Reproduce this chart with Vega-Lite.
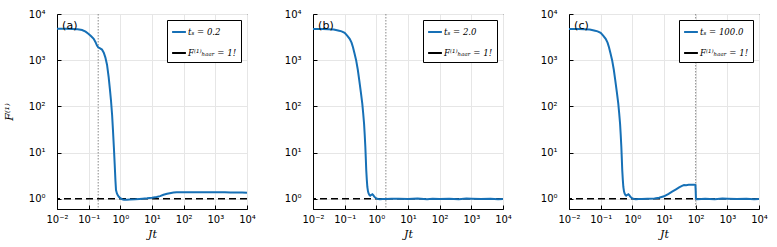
{
  "$schema": "https://vega.github.io/schema/vega-lite/v6.json",
  "padding": {"left": 2, "top": 8, "right": 5, "bottom": 2},
  "background": "white",
  "bounds": "flush",
  "spacing": 66,
  "datasets": {
    "a": [
      {"x":0.01,"y":4800},{"x":0.02,"y":4790},{"x":0.03,"y":4750},{"x":0.045,"y":4650},{"x":0.062,"y":4500},{"x":0.08,"y":4150},{"x":0.1,"y":3700},{"x":0.12,"y":3300},{"x":0.144,"y":2900},{"x":0.165,"y":2450},{"x":0.183,"y":2070},{"x":0.2,"y":1900},{"x":0.23,"y":1800},{"x":0.263,"y":1700},{"x":0.3,"y":1450},{"x":0.336,"y":1150},{"x":0.38,"y":800},{"x":0.428,"y":430},{"x":0.47,"y":230},{"x":0.507,"y":134},{"x":0.55,"y":65},{"x":0.586,"y":30},{"x":0.625,"y":13},{"x":0.662,"y":5.8},{"x":0.7,"y":2.5},{"x":0.73,"y":1.54},{"x":0.78,"y":1.3},{"x":0.824,"y":1.2},{"x":0.9,"y":1.1},{"x":1.0,"y":1.03},{"x":1.15,"y":0.97},{"x":1.3,"y":0.95},{"x":1.6,"y":0.95},{"x":2,"y":0.96},{"x":3,"y":0.97},{"x":4,"y":0.99},{"x":5,"y":1.0},{"x":7,"y":1.02},{"x":10,"y":1.05},{"x":14,"y":1.09},{"x":18,"y":1.14},{"x":23,"y":1.22},{"x":30,"y":1.28},{"x":40,"y":1.33},{"x":48,"y":1.36},{"x":60,"y":1.38},{"x":80,"y":1.39},{"x":100,"y":1.38},{"x":150,"y":1.39},{"x":200,"y":1.38},{"x":300,"y":1.39},{"x":500,"y":1.38},{"x":700,"y":1.39},{"x":1000,"y":1.38},{"x":1500,"y":1.38},{"x":2000,"y":1.39},{"x":3000,"y":1.37},{"x":5000,"y":1.37},{"x":7000,"y":1.36},{"x":10000,"y":1.35}
    ],
    "b": [
      {"x":0.01,"y":4750},{"x":0.02,"y":4740},{"x":0.03,"y":4700},{"x":0.045,"y":4600},{"x":0.062,"y":4400},{"x":0.08,"y":4200},{"x":0.1,"y":3900},{"x":0.12,"y":3400},{"x":0.144,"y":2900},{"x":0.165,"y":2400},{"x":0.183,"y":1900},{"x":0.205,"y":1400},{"x":0.23,"y":1000},{"x":0.26,"y":620},{"x":0.29,"y":360},{"x":0.325,"y":200},{"x":0.36,"y":115},{"x":0.385,"y":70},{"x":0.41,"y":42},{"x":0.43,"y":24},{"x":0.45,"y":13},{"x":0.465,"y":7.5},{"x":0.48,"y":4.2},{"x":0.5,"y":2.6},{"x":0.52,"y":1.8},{"x":0.545,"y":1.45},{"x":0.57,"y":1.3},{"x":0.6,"y":1.22},{"x":0.64,"y":1.17},{"x":0.7,"y":1.22},{"x":0.75,"y":1.25},{"x":0.8,"y":1.2},{"x":0.85,"y":1.12},{"x":0.92,"y":1.06},{"x":1.0,"y":1.02},{"x":1.15,"y":0.99},{"x":1.3,"y":0.98},{"x":1.6,"y":0.99},{"x":2,"y":0.99},{"x":3,"y":1.0},{"x":5,"y":1.0},{"x":10,"y":0.99},{"x":20,"y":1.01},{"x":40,"y":0.97},{"x":60,"y":1.0},{"x":100,"y":0.99},{"x":200,"y":1.0},{"x":400,"y":0.98},{"x":700,"y":1.01},{"x":1000,"y":1.0},{"x":2000,"y":0.99},{"x":4000,"y":1.0},{"x":7000,"y":0.98},{"x":10000,"y":0.99}
    ],
    "c": [
      {"x":0.01,"y":4750},{"x":0.02,"y":4740},{"x":0.03,"y":4700},{"x":0.045,"y":4600},{"x":0.062,"y":4400},{"x":0.08,"y":4200},{"x":0.1,"y":3900},{"x":0.12,"y":3400},{"x":0.144,"y":2900},{"x":0.165,"y":2400},{"x":0.183,"y":1900},{"x":0.205,"y":1400},{"x":0.23,"y":1000},{"x":0.26,"y":620},{"x":0.29,"y":360},{"x":0.325,"y":200},{"x":0.36,"y":115},{"x":0.385,"y":70},{"x":0.41,"y":42},{"x":0.43,"y":24},{"x":0.45,"y":13},{"x":0.465,"y":7.5},{"x":0.48,"y":4.2},{"x":0.5,"y":2.6},{"x":0.52,"y":1.8},{"x":0.545,"y":1.45},{"x":0.57,"y":1.3},{"x":0.6,"y":1.22},{"x":0.64,"y":1.17},{"x":0.7,"y":1.22},{"x":0.75,"y":1.25},{"x":0.8,"y":1.2},{"x":0.85,"y":1.12},{"x":0.92,"y":1.06},{"x":1.0,"y":1.02},{"x":1.15,"y":0.99},{"x":1.3,"y":0.98},{"x":1.6,"y":0.99},{"x":2,"y":0.99},{"x":3,"y":1.0},{"x":5,"y":1.01},{"x":7,"y":1.05},{"x":10,"y":1.13},{"x":14,"y":1.28},{"x":18,"y":1.42},{"x":24,"y":1.6},{"x":30,"y":1.76},{"x":37,"y":1.9},{"x":43,"y":1.98},{"x":50,"y":1.97},{"x":60,"y":2.0},{"x":70,"y":2.0},{"x":80,"y":2.02},{"x":90,"y":2.0},{"x":98,"y":1.98},{"x":100,"y":1.5},{"x":102,"y":1.0},{"x":110,"y":0.98},{"x":150,"y":0.99},{"x":200,"y":1.0},{"x":400,"y":0.98},{"x":700,"y":1.01},{"x":1000,"y":1.0},{"x":2000,"y":0.99},{"x":4000,"y":1.0},{"x":7000,"y":0.98},{"x":10000,"y":0.99}
    ]
  },
  "config": {
    "view": {"stroke": "black", "strokeWidth": 1},
    "axis": {
      "grid": true, "gridColor": "#e6e6e6", "gridWidth": 1,
      "domain": true, "domainColor": "black", "domainWidth": 1,
      "ticks": true, "tickSize": -4, "tickColor": "black",
      "labelFont": "DejaVu Sans", "labelFontSize": 10, "labelColor": "black",
      "labelOverlap": false, "labelFlush": false,
      "titleFont": "DejaVu Serif", "titleFontStyle": "italic", "titleFontWeight": "normal", "titleFontSize": 11, "titleColor": "black",
      "labelExpr": "'10' + replace(replace(replace(replace(replace(replace(replace('' + round(log(datum.value)/LN10), '-', '⁻'), '0', '⁰'), '1', '¹'), '2', '²'), '3', '³'), '4', '⁴'), '5', '⁵')"
    },
    "axisX": {"labelPadding": 9, "titlePadding": 4},
    "axisY": {"labelPadding": 16, "titlePadding": 14},
    "legend": {
      "orient": "top-right", "offset": 6, "strokeColor": "black", "fillColor": "white",
      "padding": 4, "symbolType": "stroke", "symbolSize": 190, "symbolStrokeWidth": 2,
      "labelFont": "DejaVu Serif Condensed, DejaVu Serif", "labelFontSize": 9.5, "labelFontStyle": "italic", "rowPadding": 8, "cornerRadius": 0, "labelColor": "black", "labelOffset": 1
    }
  },
  "hconcat": [
    {
      "width": 190, "height": 195,
      "layer": [
        {"data": {"values": [{}]}, "mark": {"type": "rule", "color": "#888888", "strokeDash": [1.5, 1.5], "strokeWidth": 1}, "encoding": {"x": {"datum": 0.2}}},
        {"data": {"values": [{}]}, "mark": {"type": "rule", "strokeDash": [7, 4], "strokeWidth": 1.5}, "encoding": {"y": {"datum": 1}, "color": {"datum": "F⁽¹⁾ₕₐₐᵣ = 1!"}}},
        {"data": {"name": "a"}, "mark": {"type": "line", "strokeWidth": 2, "clip": true},
          "encoding": {
            "x": {"field": "x", "type": "quantitative", "scale": {"type": "log", "domain": [0.01, 10000], "nice": false}, "axis": {"values": [0.01,0.1,1,10,100,1000,10000], "title": "Jt"}},
            "y": {"field": "y", "type": "quantitative", "scale": {"type": "log", "domain": [0.6, 10000], "nice": false}, "axis": {"values": [1,10,100,1000,10000], "title": "F⁽¹⁾"}},
            "color": {"datum": "tₛ = 0.2", "scale": {"domain": ["tₛ = 0.2", "F⁽¹⁾ₕₐₐᵣ = 1!"], "range": ["#1670b6", "black"]}, "legend": {"title": null}}
          }},
        {"data": {"values": [{"x": 0.0145, "y": 5600, "t": "(a)"}]}, "mark": {"type": "text", "align": "left", "baseline": "middle", "font": "DejaVu Sans", "fontSize": 11},
          "encoding": {"x": {"field": "x", "type": "quantitative"}, "y": {"field": "y", "type": "quantitative"}, "text": {"field": "t"}}}
      ]
    },
    {
      "width": 190, "height": 195,
      "layer": [
        {"data": {"values": [{}]}, "mark": {"type": "rule", "color": "#888888", "strokeDash": [1.5, 1.5], "strokeWidth": 1}, "encoding": {"x": {"datum": 2.0}}},
        {"data": {"values": [{}]}, "mark": {"type": "rule", "strokeDash": [7, 4], "strokeWidth": 1.5}, "encoding": {"y": {"datum": 1}, "color": {"datum": "F⁽¹⁾ₕₐₐᵣ = 1!"}}},
        {"data": {"name": "b"}, "mark": {"type": "line", "strokeWidth": 2, "clip": true},
          "encoding": {
            "x": {"field": "x", "type": "quantitative", "scale": {"type": "log", "domain": [0.01, 10000], "nice": false}, "axis": {"values": [0.01,0.1,1,10,100,1000,10000], "title": "Jt"}},
            "y": {"field": "y", "type": "quantitative", "scale": {"type": "log", "domain": [0.6, 10000], "nice": false}, "axis": {"values": [1,10,100,1000,10000], "title": null}},
            "color": {"datum": "tₛ = 2.0", "scale": {"domain": ["tₛ = 2.0", "F⁽¹⁾ₕₐₐᵣ = 1!"], "range": ["#1670b6", "black"]}, "legend": {"title": null}}
          }},
        {"data": {"values": [{"x": 0.0145, "y": 5600, "t": "(b)"}]}, "mark": {"type": "text", "align": "left", "baseline": "middle", "font": "DejaVu Sans", "fontSize": 11},
          "encoding": {"x": {"field": "x", "type": "quantitative"}, "y": {"field": "y", "type": "quantitative"}, "text": {"field": "t"}}}
      ]
    },
    {
      "width": 190, "height": 195,
      "layer": [
        {"data": {"values": [{}]}, "mark": {"type": "rule", "color": "#888888", "strokeDash": [1.5, 1.5], "strokeWidth": 1}, "encoding": {"x": {"datum": 100}}},
        {"data": {"values": [{}]}, "mark": {"type": "rule", "strokeDash": [7, 4], "strokeWidth": 1.5}, "encoding": {"y": {"datum": 1}, "color": {"datum": "F⁽¹⁾ₕₐₐᵣ = 1!"}}},
        {"data": {"name": "c"}, "mark": {"type": "line", "strokeWidth": 2, "clip": true},
          "encoding": {
            "x": {"field": "x", "type": "quantitative", "scale": {"type": "log", "domain": [0.01, 10000], "nice": false}, "axis": {"values": [0.01,0.1,1,10,100,1000,10000], "title": "Jt"}},
            "y": {"field": "y", "type": "quantitative", "scale": {"type": "log", "domain": [0.6, 10000], "nice": false}, "axis": {"values": [1,10,100,1000,10000], "title": null}},
            "color": {"datum": "tₛ = 100.0", "scale": {"domain": ["tₛ = 100.0", "F⁽¹⁾ₕₐₐᵣ = 1!"], "range": ["#1670b6", "black"]}, "legend": {"title": null}}
          }},
        {"data": {"values": [{"x": 0.0145, "y": 5600, "t": "(c)"}]}, "mark": {"type": "text", "align": "left", "baseline": "middle", "font": "DejaVu Sans", "fontSize": 11},
          "encoding": {"x": {"field": "x", "type": "quantitative"}, "y": {"field": "y", "type": "quantitative"}, "text": {"field": "t"}}}
      ]
    }
  ],
  "resolve": {"scale": {"color": "independent"}}
}
